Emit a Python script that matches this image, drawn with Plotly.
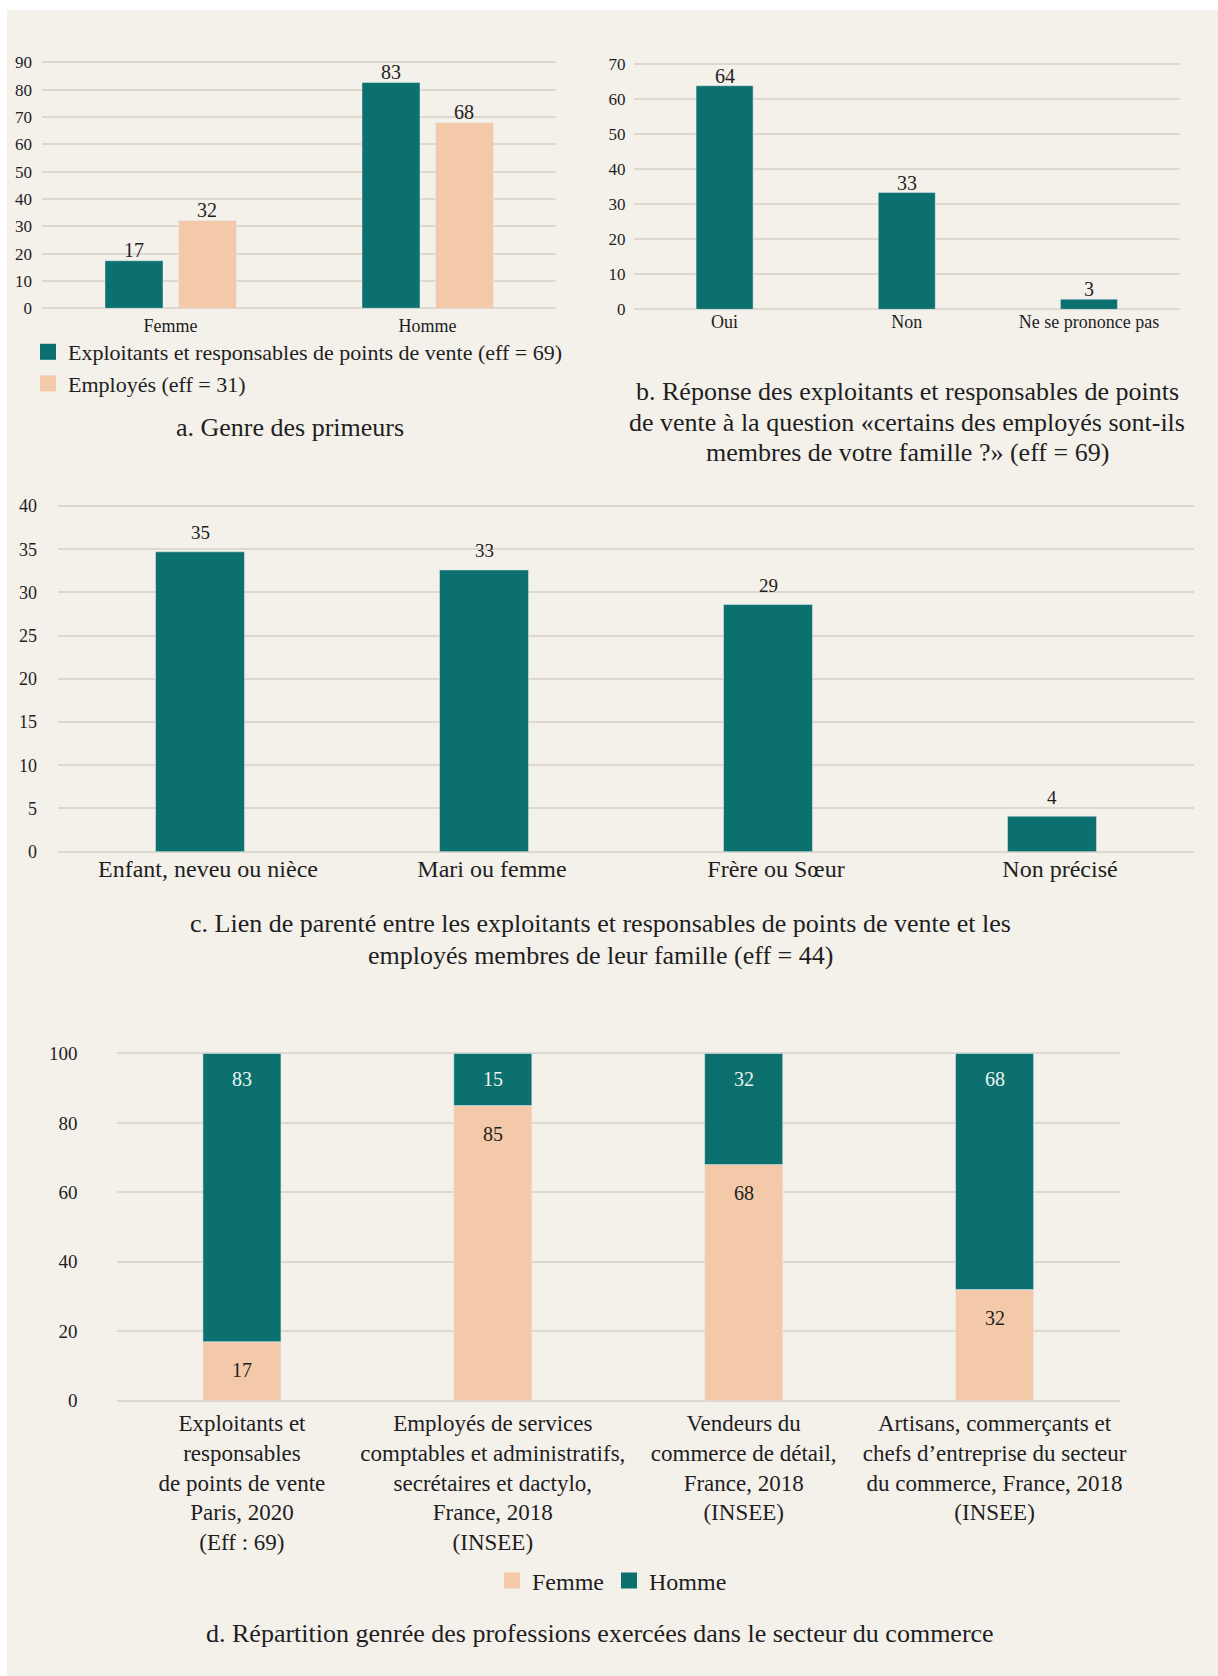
import plotly.graph_objects as go

# ---------------- data ----------------
# a. Genre des primeurs
a_categories = ["Femme", "Homme"]
a_exploitants = [17.4, 82.6]
a_employes = [32.1, 67.9]
a_names = ["Exploitants et responsables de points de vente (eff = 69)", "Employés (eff = 31)"]
a_ticks = [0, 10, 20, 30, 40, 50, 60, 70, 80, 90]

# b. Réponse ... membres de votre famille
b_categories = ["Oui", "Non", "Ne se prononce pas"]
b_values = [63.8, 33.3, 2.9]
b_ticks = [0, 10, 20, 30, 40, 50, 60, 70]

# c. Lien de parenté
c_categories = ["Enfant, neveu ou nièce", "Mari ou femme", "Frère ou Sœur", "Non précisé"]
c_values = [34.7, 32.6, 28.6, 4.1]
c_ticks = [0, 5, 10, 15, 20, 25, 30, 35, 40]

# d. Répartition genrée
d_categories = [
    "Exploitants et<br>responsables<br>de points de vente<br>Paris, 2020<br>(Eff : 69)",
    "Employés de services<br>comptables et administratifs,<br>secrétaires et dactylo,<br>France, 2018<br>(INSEE)",
    "Vendeurs du<br>commerce de détail,<br>France, 2018<br>(INSEE)",
    "Artisans, commerçants et<br>chefs d’entreprise du secteur<br>du commerce, France, 2018<br>(INSEE)",
]
d_femme = [17, 85, 68, 32]
d_homme = [83, 15, 32, 68]
d_names = ["Femme", "Homme"]
d_ticks = [0, 20, 40, 60, 80, 100]

title_a = ["a. Genre des primeurs"]
title_b = ["b. Réponse des exploitants et responsables de points",
           "de vente à la question «certains des employés sont-ils",
           "membres de votre famille ?» (eff = 69)"]
title_c = ["c. Lien de parenté entre les exploitants et responsables de points de vente et les",
           "employés membres de leur famille (eff = 44)"]
title_d = ["d. Répartition genrée des professions exercées dans le secteur du commerce"]

# ---------------- style ----------------
W, H = 1218, 1676
TEAL = "#0B706E"
PEACH = "#F4C9A9"
BG = "#F4F0EA"
GRID = "#DDD8D0"
TXT = "#1E1E1E"
FONT = "Liberation Serif, serif"


def px_x(v):
    return v / W


def px_y(v):
    return 1 - v / H


fig = go.Figure()

# a
fig.add_trace(go.Bar(x=a_categories, y=a_exploitants, name=a_names[0], marker_color=TEAL,
                     width=0.2257, offset=-0.2549, xaxis="x", yaxis="y", showlegend=False))
fig.add_trace(go.Bar(x=a_categories, y=a_employes, name=a_names[1], marker_color=PEACH,
                     width=0.2257, offset=0.0311, xaxis="x", yaxis="y", showlegend=False))
# b
fig.add_trace(go.Bar(x=b_categories, y=b_values, marker_color=TEAL, width=0.313,
                     xaxis="x2", yaxis="y2", showlegend=False))
# c
fig.add_trace(go.Bar(x=c_categories, y=c_values, marker_color=TEAL, width=0.313,
                     xaxis="x3", yaxis="y3", showlegend=False))
# d (stacked via base)
fig.add_trace(go.Bar(x=d_categories, y=d_femme, name=d_names[0], marker_color=PEACH, width=0.311,
                     offsetgroup="d", xaxis="x4", yaxis="y4", showlegend=False))
fig.add_trace(go.Bar(x=d_categories, y=d_homme, base=d_femme, name=d_names[1], marker_color=TEAL,
                     width=0.311, offsetgroup="d", xaxis="x4", yaxis="y4", showlegend=False))

# legend entries (square swatches, no data)
for nm, col in zip(a_names, [TEAL, PEACH]):
    fig.add_trace(go.Scatter(x=[None], y=[None], mode="markers", name=nm,
                             marker=dict(symbol="square", size=18, color=col),
                             xaxis="x", yaxis="y", legend="legend", hoverinfo="skip"))
for nm, col in zip(d_names, [PEACH, TEAL]):
    fig.add_trace(go.Scatter(x=[None], y=[None], mode="markers", name=nm,
                             marker=dict(symbol="square", size=16, color=col),
                             xaxis="x4", yaxis="y4", legend="legend2", hoverinfo="skip"))

annotations = []


def lab(xref, yref, x, y, text, yshift, size=20, color=TXT, xshift=0):
    annotations.append(dict(x=x, y=y, xref=xref, yref=yref, text=text, showarrow=False,
                            yanchor="middle", yshift=yshift, xshift=xshift,
                            font=dict(family=FONT, size=size, color=color)))


for cat, v in zip(a_categories, a_exploitants):
    lab("x", "y", cat, v, f"{v:.0f}", 11, xshift=-36.5)
for cat, v in zip(a_categories, a_employes):
    lab("x", "y", cat, v, f"{v:.0f}", 11, xshift=36.5)
for cat, v in zip(b_categories, b_values):
    lab("x2", "y2", cat, v, f"{v:.0f}", 10)
for cat, v in zip(c_categories, c_values):
    lab("x3", "y3", cat, v, f"{v:.0f}", 19, size=19)
for cat, f, h in zip(d_categories, d_femme, d_homme):
    lab("x4", "y4", cat, f, str(f), -28)
    lab("x4", "y4", cat, f + h, str(h), -25.5, color="#EEF3F1")


def title_lines(lines, xc, ys, size=26):
    for t, yy in zip(lines, ys):
        annotations.append(dict(x=px_x(xc), y=px_y(yy), xref="paper", yref="paper", text=t,
                                showarrow=False, xanchor="center", yanchor="middle",
                                font=dict(family=FONT, size=size, color=TXT)))


title_lines(title_a, 290, [428])
title_lines(title_b, 907, [392, 423, 453])
title_lines(title_c, 600, [923, 956])
title_lines(title_d, 600, [1633])


def yax(y_top, y_bot, vmax, ticks, size, standoff, anchor):
    ppu = (y_bot - y_top) / vmax
    eps = vmax * 0.01
    return dict(domain=[px_y(y_bot), px_y(y_top - eps * ppu)], range=[0, vmax + eps], tickvals=ticks,
                showgrid=True, gridcolor=GRID, gridwidth=1.5, zeroline=True, zerolinecolor=GRID,
                zerolinewidth=1.5, showline=False, ticks="", ticklabelstandoff=standoff,
                anchor=anchor, automargin=False,
                tickfont=dict(family=FONT, size=size, color=TXT), fixedrange=True)


def xax(x0, x1, anchor, size, standoff, shift=0):
    return dict(domain=[px_x(x0), px_x(x1)], anchor=anchor, showgrid=False, automargin=False,
                zeroline=False, showline=False, ticks="", ticklabelstandoff=standoff,
                ticklabelshift=shift,
                tickfont=dict(family=FONT, size=size, color=TXT), type="category", fixedrange=True)


fig.update_layout(
    width=W, height=H,
    margin=dict(l=0, r=0, t=0, b=0, pad=0, autoexpand=False),
    paper_bgcolor=BG, plot_bgcolor="rgba(0,0,0,0)",
    font=dict(family=FONT, color=TXT),
    barmode="group",
    xaxis=xax(42, 556, "y", 18, 5),
    yaxis=yax(62.3, 308.3, 90, a_ticks, 17, 9, "x"),
    xaxis2=xax(633.5, 1180, "y2", 18, 0),
    yaxis2=yax(64, 309.3, 70, b_ticks, 17, 7, "x2"),
    xaxis3=xax(58, 1194, "y3", 24, 0, 8),
    yaxis3=yax(506, 851.7, 40, c_ticks, 18, 20, "x3"),
    xaxis4=xax(116.5, 1120, "y4", 23, 6),
    yaxis4=yax(1053.5, 1400.7, 100, d_ticks, 19, 38, "x4"),
    legend=dict(x=px_x(28), y=px_y(331), xanchor="left", yanchor="top", orientation="v",
                font=dict(family=FONT, size=22, color=TXT), bgcolor="rgba(0,0,0,0)",
                tracegroupgap=0, itemclick=False, itemdoubleclick=False, itemsizing="trace"),
    legend2=dict(x=px_x(612), y=px_y(1581), xanchor="center", yanchor="middle", orientation="h",
                 font=dict(family=FONT, size=24, color=TXT), bgcolor="rgba(0,0,0,0)",
                 itemclick=False, itemdoubleclick=False, itemsizing="trace"),
    annotations=annotations,
    shapes=[
        dict(type="rect", xref="paper", yref="paper", x0=0, x1=1, y0=px_y(10), y1=1,
             fillcolor="white", line_width=0, layer="below"),
        dict(type="rect", xref="paper", yref="paper", x0=0, x1=px_x(7), y0=0, y1=1,
             fillcolor="white", line_width=0, layer="below"),
    ],
)

fig.write_html("out.html", config={"displayModeBar": False, "responsive": False},
               post_script="document.body.style.margin='0px';document.body.style.overflow='hidden';")
